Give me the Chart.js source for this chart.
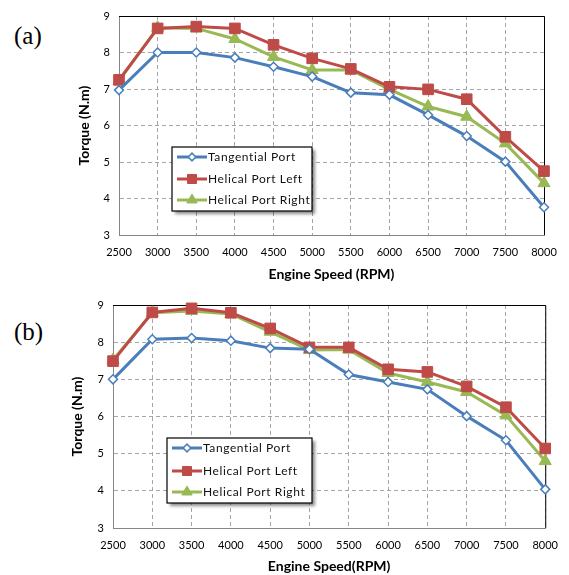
<!DOCTYPE html>
<html>
<head>
<meta charset="utf-8">
<script src="https://cdn.jsdelivr.net/npm/chart.js@4.4.1/dist/chart.umd.min.js"></script>
<style>
  body { margin: 0; background: #fff; width: 569px; height: 575px; position: relative; overflow: hidden; }
  .bloque { position: absolute; left: 0; width: 569px; }
  .etiqueta { position: absolute; left: 14px; font-family: "Liberation Serif", serif; font-size: 25px; color: #000; }
</style>
</head>
<body>
<div class="etiqueta" style="top:22px">(a)</div>
<div class="bloque" style="top:0;height:287px"><canvas id="graficoA" width="569" height="287"></canvas></div>
<div class="etiqueta" style="top:318px">(b)</div>
<div class="bloque" style="top:287px;height:288px"><canvas id="graficoB" width="569" height="288"></canvas></div>
<script>
const velocidades = ['2500', '3000', '3500', '4000', '4500', '5000', '5500', '6000', '6500', '7000', '7500', '8000'];
const nombresSeries = ['Tangential Port', 'Helical Port Left', 'Helical Port Right'];

// (a)
const tangencialA = [6.97, 8.00, 8.00, 7.86, 7.61, 7.34, 6.90, 6.84, 6.29, 5.71, 5.01, 3.76];
const helicoIzqA = [7.25, 8.66, 8.71, 8.66, 8.21, 7.84, 7.55, 7.06, 6.99, 6.72, 5.69, 4.75];
const helicoDerA = [7.22, 8.68, 8.66, 8.37, 7.88, 7.52, 7.52, 6.99, 6.52, 6.24, 5.51, 4.42];

// (b)
const tangencialB = [7.00, 8.08, 8.11, 8.04, 7.84, 7.81, 7.13, 6.93, 6.73, 6.01, 5.36, 4.04];
const helicoIzqB = [7.49, 8.80, 8.91, 8.79, 8.37, 7.86, 7.86, 7.27, 7.20, 6.81, 6.25, 5.14];
const helicoDerB = [7.52, 8.79, 8.84, 8.76, 8.28, 7.79, 7.80, 7.17, 6.93, 6.66, 6.03, 4.80];

const torqueMin = 3;
const torqueMax = 9;

Chart.defaults.font.family = 'Lato';

// cuadro de leyenda dentro del area del grafico
const leyendaCaja = {
    id: 'leyendaCaja',
    afterDraw(chart, args, opts) {
        const ctx = chart.ctx;
        ctx.save();
        ctx.shadowColor = 'rgba(0,0,0,0.45)';
        ctx.shadowOffsetX = 3;
        ctx.shadowOffsetY = 3;
        ctx.shadowBlur = 3;
        ctx.fillStyle = '#fff';
        ctx.fillRect(opts.x, opts.y, opts.ancho, opts.alto);
        ctx.restore();
        ctx.save();
        ctx.strokeStyle = '#000';
        ctx.lineWidth = 1.2;
        ctx.strokeRect(opts.x, opts.y, opts.ancho, opts.alto);
        chart.data.datasets.forEach((ds, i) => {
            const y = opts.filas[i];
            ctx.strokeStyle = ds.borderColor;
            ctx.lineWidth = 3;
            ctx.beginPath();
            ctx.moveTo(opts.lineaX, y);
            ctx.lineTo(opts.lineaX + opts.lineaAncho, y);
            ctx.stroke();
            ctx.fillStyle = ds.pointBackgroundColor;
            ctx.strokeStyle = ds.pointBorderColor;
            ctx.lineWidth = ds.pointBorderWidth;
            Chart.helpers.drawPoint(ctx, {
                pointStyle: ds.pointStyle,
                rotation: 0,
                radius: ds.pointRadius * 0.85,
                borderWidth: ds.pointBorderWidth
            }, opts.lineaX + opts.lineaAncho / 2, y);
            ctx.fillStyle = '#111';
            ctx.font = '12px Lato';
            ctx.letterSpacing = '0.6px';
            ctx.textBaseline = 'middle';
            ctx.textAlign = 'left';
            ctx.fillText(ds.label, opts.lineaX + opts.lineaAncho + 1, y);
        });
        ctx.restore();
    }
};

// borde negro arriba y a la derecha
const bordeArea = {
    id: 'bordeArea',
    beforeDatasetsDraw(chart) {
        const { ctx, chartArea } = chart;
        ctx.save();
        ctx.strokeStyle = '#000';
        ctx.lineWidth = 1;
        ctx.beginPath();
        ctx.moveTo(chartArea.left, chartArea.top + 0.5);
        ctx.lineTo(chartArea.right + 0.5, chartArea.top + 0.5);
        ctx.lineTo(chartArea.right + 0.5, chartArea.bottom);
        ctx.stroke();
        ctx.restore();
    }
};

function crearSeries(tangencial, izq, der) {
    return [
        {
            label: nombresSeries[0], data: tangencial,
            borderColor: '#4A7EBB', borderWidth: 3,
            pointStyle: 'rectRot', pointRadius: 4.5,
            pointBackgroundColor: '#fff', pointBorderColor: '#4A7EBB', pointBorderWidth: 1.5,
            clip: false
        },
        {
            label: nombresSeries[1], data: izq,
            borderColor: '#BE4B48', borderWidth: 3,
            pointStyle: 'rect', pointRadius: 7.5,
            pointBackgroundColor: '#BE4B48', pointBorderColor: '#BE4B48', pointBorderWidth: 1,
            clip: false
        },
        {
            label: nombresSeries[2], data: der,
            borderColor: '#98B954', borderWidth: 3,
            pointStyle: 'triangle', pointRadius: 7,
            pointBackgroundColor: '#98B954', pointBorderColor: '#98B954', pointBorderWidth: 1,
            clip: false
        }
    ];
}

function crearGrafico(idCanvas, series, cfg) {
    const ctx = document.getElementById(idCanvas).getContext('2d');
    return new Chart(ctx, {
        type: 'line',
        data: { labels: velocidades, datasets: series },
        options: {
            responsive: false,
            animation: false,
            events: [],
            layout: { padding: { left: cfg.padIzq, right: cfg.padDer, top: cfg.padArriba, bottom: 0 } },
            plugins: {
                legend: { display: false },
                tooltip: { enabled: false },
                leyendaCaja: cfg.leyenda
            },
            scales: {
                x: {
                    offset: false,
                    grid: { color: '#A6A6A6', drawTicks: false, lineWidth: 1, borderDash: [4, 3] },
                    border: { display: true, color: '#868686', width: 1, dash: [4, 3] },
                    ticks: { color: '#000', font: { size: 11 }, padding: 11, maxRotation: 0, autoSkip: false },
                    title: {
                        display: true, text: cfg.tituloX, color: '#000',
                        font: { size: 14, weight: 'bold' }, padding: { top: 0, bottom: cfg.padTituloX }
                    },
                    afterFit: (eje) => { eje.height = cfg.altoEjeX; }
                },
                y: {
                    min: torqueMin, max: torqueMax,
                    grid: { color: '#A6A6A6', drawTicks: false, lineWidth: 1, borderDash: [4, 3] },
                    border: { display: true, color: '#868686', width: 1, dash: [4, 3] },
                    ticks: { color: '#000', font: { size: 11 }, padding: 9, stepSize: 1 },
                    title: {
                        display: true, text: 'Torque (N.m)', color: '#000',
                        font: { size: 14, weight: 'bold' }, padding: { top: 0, bottom: 0 }
                    },
                    afterFit: (eje) => { eje.width = cfg.anchoEjeY; }
                }
            }
        },
        plugins: [bordeArea, leyendaCaja]
    });
}

crearGrafico('graficoA', crearSeries(tangencialA, helicoIzqA, helicoDerA), {
    padIzq: 76, padDer: 25, padArriba: 16,
    anchoEjeY: 43, altoEjeX: 52, padTituloX: 4,
    tituloX: 'Engine Speed (RPM)',
    leyenda: { x: 172, y: 147, ancho: 140, alto: 64, lineaX: 177, lineaAncho: 30, filas: [157, 179, 200] }
});

crearGrafico('graficoB', crearSeries(tangencialB, helicoIzqB, helicoDerB), {
    padIzq: 69, padDer: 19, padArriba: 18,
    anchoEjeY: 44, altoEjeX: 47, padTituloX: 0,
    tituloX: 'Engine Speed(RPM)',
    leyenda: { x: 167, y: 151, ancho: 145, alto: 65, lineaX: 172, lineaAncho: 30, filas: [161, 184, 205] }
});
</script>
</body>
</html>
